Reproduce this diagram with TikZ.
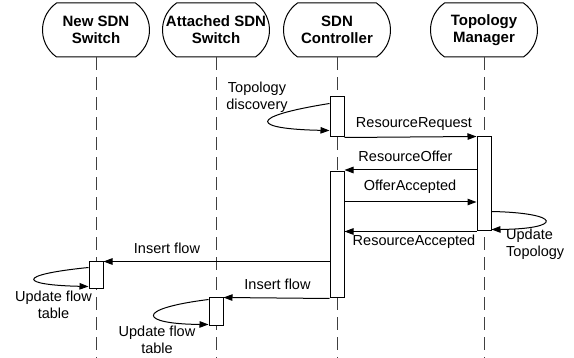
\documentclass[tikz,border=0pt]{standalone}
\usepackage{fontspec}
\setmainfont{Liberation Sans}
\usetikzlibrary{arrows.meta,shapes.misc,calc}
\tikzset{
  hdr/.style={rounded rectangle, rounded rectangle arc length=110, draw, line width=1pt,
    minimum width=107pt, minimum height=54pt, inner sep=0pt, fill=white},
  hdrtxt/.style={align=center, inner sep=0pt, font=\bfseries\fontsize{15}{17}\selectfont},
  lifeline/.style={line width=1pt, black!75, dash pattern=on 13pt off 7pt},
  actbar/.style={draw, line width=1pt, fill=white, minimum width=14pt, inner sep=0pt},
  msg/.style={line width=1pt, -{Triangle[length=9pt,width=6.5pt]}},
  lbl/.style={align=center, inner sep=0pt, font=\fontsize{14.5}{17}\selectfont},
  lbll/.style={align=left, inner sep=0pt, font=\fontsize{14.5}{17}\selectfont, anchor=west},
}
\begin{document}
\begin{tikzpicture}[x=1pt,y=-1pt]
\useasboundingbox (0,0) rectangle (574,358);
\coordinate (bot) at (0,358);

% headers
\node[hdr, label={[hdrtxt]center:{New SDN\\Switch}}] (nsw) at (96,30) {};
\node[hdr, label={[hdrtxt]center:{Attached SDN\\Switch}}] (asw) at (216,30) {};
\node[hdr, label={[hdrtxt]center:{SDN\\Controller}}] (ctl) at (337,30) {};
\node[hdr, label={[hdrtxt]center:{Topology\\Manager}}] (tpm) at (484,30) {};

% lifelines
\draw[lifeline] (nsw.south) -- (nsw.south |- bot);
\draw[lifeline] (asw.south) -- (asw.south |- bot);
\draw[lifeline] (ctl.south) -- (ctl.south |- bot);
\draw[lifeline] (tpm.south) -- (tpm.south |- bot);

% activation bars
\node[actbar, minimum height=40pt] (c1) at (337,117) {};
\node[actbar, minimum height=126pt] (c2) at (337,235) {};
\node[actbar, minimum height=94pt] (tm) at (484,184) {};
\node[actbar, minimum height=27pt] (n1) at (96,275.5) {};
\node[actbar, minimum height=28pt] (a1) at (216,312) {};

% helper coordinates
\coordinate (ro) at (0,170);
\coordinate (oa) at (0,202);

% self loop: topology discovery
\draw[msg] ($(c1.north west)+(0,7)$) .. controls (245,117) and (252,129) .. ($(c1.north west)+(0,34)$);
\node[lbl] (tdl) at (257,97.5) {Topology\\discovery};

% messages
\draw[msg] (c1.south east) -- (tm.north west);
\node[lbl] (rrq) at (414,124) {ResourceRequest};

\draw[msg] (tm.west |- ro) -- (c2.east |- ro);
\node[lbl] (rof) at (405.5,156) {ResourceOffer};

\draw[msg] (c2.east |- oa) -- (tm.west |- oa);
\node[lbl] (oac) at (410,187) {OfferAccepted};

% self loop: update topology
\draw[msg] ($(tm.north east)+(0,75)$) .. controls (563,213) and (563,229) .. ($(tm.north east)+(0,93)$);
\node[lbll] (utl) at (506,244) {Update\\Topology};

\draw[msg] (tm.south west) -- (c2.east |- tm.south west);
\node[lbl] (rac) at (414,242) {ResourceAccepted};

% insert flow 1
\draw[msg] (c2.west |- n1.north east) -- (n1.north east);
\node[lbl] (if1) at (167,248) {Insert flow};
\draw[msg] ($(n1.north west)+(0,6)$) .. controls (14,275) and (20,285) .. ($(n1.north west)+(0,25)$);
\node[lbl] (uf1) at (53.5,304.5) {Update flow\\table};

% insert flow 2
\draw[msg] (c2.south west) -- (a1.north east);
\node[lbl] (if2) at (277.5,284) {Insert flow};
\draw[msg] ($(a1.north west)+(0,2)$) .. controls (133,309) and (140,324) .. ($(a1.north west)+(0,27)$);
\node[lbl] (uf2) at (157,339.5) {Update flow\\table};
\end{tikzpicture}
\end{document}
